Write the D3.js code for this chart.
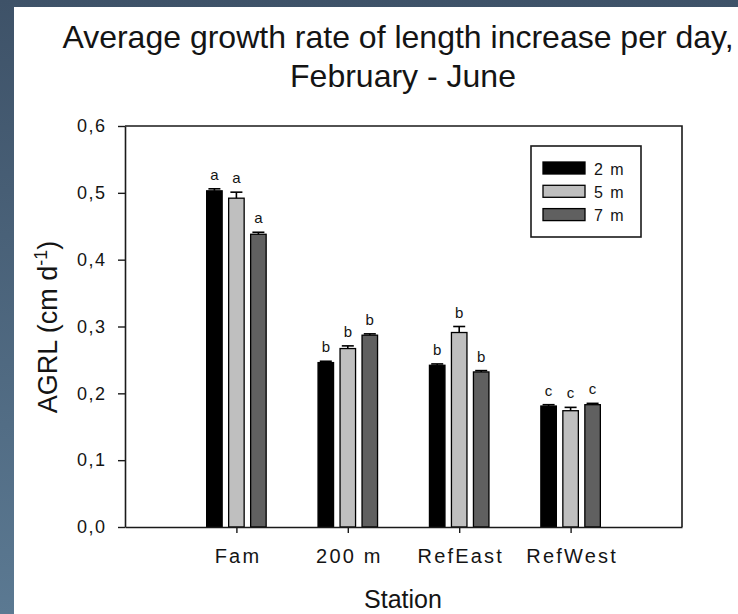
<!DOCTYPE html>
<html>
<head>
<meta charset="utf-8">
<script src="https://cdn.jsdelivr.net/npm/d3@7"></script>
<style>
  body { margin: 0; background: #ffffff; }
  svg { display: block; }
  text { font-family: "Liberation Sans", Arial, sans-serif; fill: #141414; }
</style>
</head>
<body>
<svg id="chart" width="738" height="614"></svg>
<script>
// Stations and sampling depths
const stations = ["Fam", "200 m", "RefEast", "RefWest"];
const depths = ["2 m", "5 m", "7 m"];

// Mean AGRL (cm per day) per station, one array per depth
const agrl2m = [0.503, 0.246, 0.242, 0.181];
const agrl5m = [0.492, 0.267, 0.291, 0.174];
const agrl7m = [0.438, 0.287, 0.232, 0.183];

// Standard errors (drawn upward only)
const se2m = [0.003, 0.002, 0.002, 0.002];
const se5m = [0.009, 0.004, 0.009, 0.005];
const se7m = [0.003, 0.002, 0.002, 0.002];

// Significance groups
const letters2m = ["a", "b", "b", "c"];
const letters5m = ["a", "b", "b", "c"];
const letters7m = ["a", "b", "b", "c"];

// Axis ticks
const yTicks = [0, 0.1, 0.2, 0.3, 0.4, 0.5, 0.6];
const yTickLabels = ["0,0", "0,1", "0,2", "0,3", "0,4", "0,5", "0,6"];

const depthFill = { "2 m": "#000000", "5 m": "#bfbfbf", "7 m": "#606060" };

const means = [agrl2m, agrl5m, agrl7m];
const errs = [se2m, se5m, se7m];
const letters = [letters2m, letters5m, letters7m];

const rows = [];
stations.forEach((s, i) => {
  depths.forEach((d, j) => {
    rows.push({ station: s, idx: i + 1, depth: d, value: means[j][i], se: errs[j][i], letter: letters[j][i] });
  });
});

const svg = d3.select("#chart");
const W = 738, H = 614;

// Slide background and white panel
const defs = svg.append("defs");
const grad = defs.append("linearGradient").attr("id", "bg").attr("x1", 0).attr("y1", 0).attr("x2", 0).attr("y2", 1);
grad.append("stop").attr("offset", "0%").attr("stop-color", "#3e5268");
grad.append("stop").attr("offset", "100%").attr("stop-color", "#5b7992");
svg.append("rect").attr("width", W).attr("height", H).attr("fill", "url(#bg)");
svg.append("rect").attr("x", 14).attr("y", 7).attr("width", W - 14).attr("height", H - 7).attr("fill", "#ffffff");

// Plot area
const plotL = 125, plotR = 682, plotT = 126, plotB = 527;
const x = d3.scaleLinear().domain([0, stations.length + 1]).range([plotL, plotR]);
const y = d3.scaleLinear().domain([0, 0.6]).range([plotB, plotT]);
const inner = d3.scaleBand().domain(depths).range([-29.75, 29.75]).paddingInner(0.295);

const axisColor = "#1a1a1a";

// Title
svg.append("text").attr("x", 398).attr("y", 48).attr("text-anchor", "middle")
  .style("font-size", "32px").text("Average growth rate of length increase per day,");
svg.append("text").attr("x", 403).attr("y", 87).attr("text-anchor", "middle")
  .style("font-size", "32px").text("February - June");

// Bars
const g = svg.append("g");
g.selectAll("rect.bar").data(rows).join("rect")
  .attr("class", "bar")
  .attr("x", d => x(d.idx) + inner(d.depth))
  .attr("y", d => y(d.value))
  .attr("width", inner.bandwidth())
  .attr("height", d => y(0) - y(d.value))
  .attr("fill", d => depthFill[d.depth])
  .attr("stroke", "#000").attr("stroke-width", 1.3);

// Error bars (upper half)
const capHalf = 6;
const barMid = d => x(d.idx) + inner(d.depth) + inner.bandwidth() / 2;
const eb = g.selectAll("g.err").data(rows).join("g").attr("class", "err")
  .attr("stroke", "#000").attr("stroke-width", 1.6);
eb.append("line")
  .attr("x1", barMid).attr("x2", barMid)
  .attr("y1", d => y(d.value))
  .attr("y2", d => y(d.value + d.se));
eb.append("line")
  .attr("x1", d => barMid(d) - capHalf)
  .attr("x2", d => barMid(d) + capHalf)
  .attr("y1", d => y(d.value + d.se))
  .attr("y2", d => y(d.value + d.se));

// Significance letters
g.selectAll("text.sig").data(rows).join("text")
  .attr("class", "sig")
  .attr("x", barMid)
  .attr("y", d => y(d.value + d.se) - 9)
  .attr("text-anchor", "middle")
  .style("font-size", "15px")
  .text(d => d.letter);

// Frame (top and right)
svg.append("path")
  .attr("d", `M${plotL},${plotT}H${plotR}V${plotB}`)
  .attr("fill", "none").attr("stroke", axisColor).attr("stroke-width", 1.6);

// Y axis
const yAxis = svg.append("g").attr("transform", `translate(${plotL},0)`)
  .call(d3.axisLeft(y).tickValues(yTicks).tickFormat((d, i) => yTickLabels[i]).tickSizeInner(7).tickSizeOuter(0).tickPadding(13));
yAxis.select(".domain").attr("stroke", axisColor).attr("stroke-width", 1.6);
yAxis.selectAll(".tick line").attr("stroke", axisColor).attr("stroke-width", 1.4);
yAxis.selectAll(".tick text").attr("fill", "#141414")
  .style("font-size", "18px").style("letter-spacing", "1.5px").attr("dx", "1.5px")
  .style("font-family", "'Liberation Sans', Arial, sans-serif");

// X axis
const xAxis = svg.append("g").attr("transform", `translate(0,${plotB})`)
  .call(d3.axisBottom(x).tickValues(stations.map((s, i) => i + 1)).tickFormat((d) => stations[d - 1]).tickSizeInner(6).tickSizeOuter(0).tickPadding(16));
xAxis.select(".domain").attr("stroke", axisColor).attr("stroke-width", 1.6);
xAxis.selectAll(".tick line").attr("stroke", axisColor).attr("stroke-width", 1.4);
xAxis.selectAll(".tick text").attr("fill", "#141414")
  .style("font-size", "20px").style("letter-spacing", "2.2px").attr("dx", "1.1px")
  .style("font-family", "'Liberation Sans', Arial, sans-serif");

// Axis titles
svg.append("text").attr("x", 403).attr("y", 608).attr("text-anchor", "middle")
  .style("font-size", "25px").text("Station");

const yt = svg.append("text")
  .attr("transform", "translate(57,327) rotate(-90)")
  .attr("text-anchor", "middle")
  .style("font-size", "27px");
yt.append("tspan").text("AGRL (cm d");
yt.append("tspan").attr("dy", "-10").style("font-size", "18px").text("-1");
yt.append("tspan").attr("dy", "10").text(")");

// Legend
const lg = svg.append("g");
lg.append("rect").attr("x", 531).attr("y", 146).attr("width", 110).attr("height", 91)
  .attr("fill", "#fff").attr("stroke", axisColor).attr("stroke-width", 1.6);
const item = lg.selectAll("g.item").data(depths).join("g").attr("class", "item")
  .attr("transform", (d, i) => `translate(543,${162 + i * 23.3})`);
item.append("rect").attr("width", 42).attr("height", 12)
  .attr("fill", d => depthFill[d]).attr("stroke", "#000").attr("stroke-width", 1.3);
item.append("text").attr("x", 51).attr("y", 12.5)
  .style("font-size", "16px").style("letter-spacing", "1.5px").text(d => d);
</script>
</body>
</html>
